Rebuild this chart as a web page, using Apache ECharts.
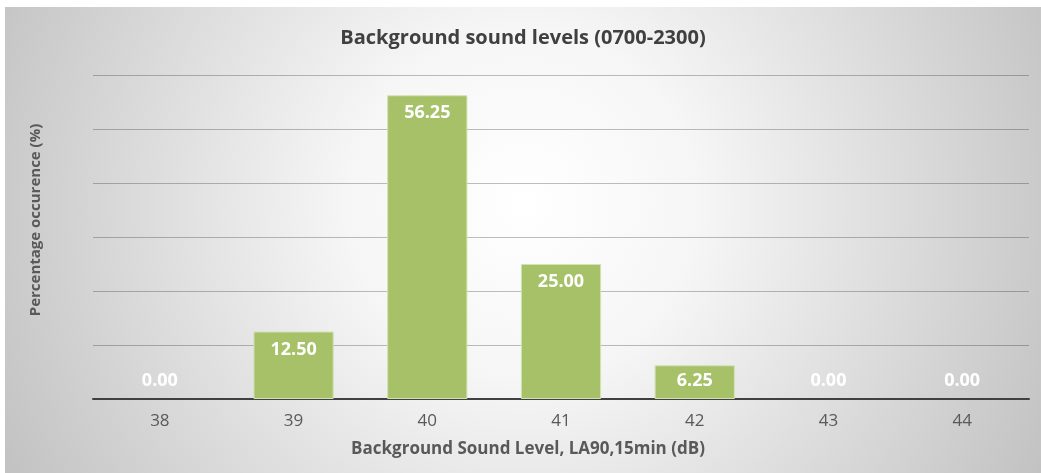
<!DOCTYPE html>
<html>
<head>
<meta charset="utf-8">
<script src="https://cdn.jsdelivr.net/npm/echarts@6/dist/echarts.min.js"></script>
<style>
  html, body { margin: 0; padding: 0; background: #ffffff; }
  #chart { position: absolute; left: 5px; top: 7px; width: 1036px; height: 466px; }
</style>
</head>
<body>
<div id="chart"></div>
<script>
// Background sound level distribution, daytime period
const levels = ['38', '39', '40', '41', '42', '43', '44'];
const occurrence = [0, 12.5, 56.25, 25, 6.25, 0, 0];
const yTicks = [0, 10, 20, 30, 40, 50, 60];

const FONT = '"Open Sans", "Noto Sans", sans-serif';

// Short bars cannot hold their label under the top edge, so it sits on the baseline instead
const barData = occurrence.map(v => ({
  value: v,
  itemStyle: v === 0 ? { borderWidth: 0 } : {},
  label: v < 8 ? { position: 'insideBottom', distance: 9 } : { position: 'insideTop', distance: 9 }
}));

const chart = echarts.init(document.getElementById('chart'), null, { renderer: 'canvas' });
chart.setOption({
  backgroundColor: {
    type: 'radial', x: 0.5, y: 0.42, r: 1.25,
    colorStops: [
      { offset: 0, color: '#ffffff' },
      { offset: 0.3, color: '#f6f6f6' },
      { offset: 0.65, color: '#dcdcdc' },
      { offset: 1, color: '#c2c2c2' }
    ]
  },
  animation: false,
  title: {
    text: 'Background sound levels (0700-2300)',
    left: 'center',
    top: 16,
    textStyle: { fontFamily: FONT, fontSize: 20, fontWeight: 'bold', color: '#404040' }
  },
  grid: { left: 88, right: 12, top: 68, bottom: 74, containLabel: false },
  xAxis: {
    type: 'category',
    data: levels,
    name: 'Background Sound Level, LA90,15min (dB)',
    nameLocation: 'middle',
    nameGap: 42,
    nameTextStyle: { fontFamily: FONT, fontSize: 17, fontWeight: 'bold', color: '#595959', padding: [0, 66, 0, 0] },
    axisLine: { lineStyle: { color: '#404040', width: 2 } },
    axisTick: { show: false },
    axisLabel: { fontFamily: FONT, fontSize: 17, color: '#595959', margin: 14 }
  },
  yAxis: {
    type: 'value',
    min: yTicks[0],
    max: yTicks[yTicks.length - 1],
    interval: yTicks[1] - yTicks[0],
    name: 'Percentage occurence (%)',
    nameLocation: 'middle',
    nameGap: 50,
    nameTextStyle: { fontFamily: FONT, fontSize: 15, fontWeight: 'bold', color: '#595959', padding: [0, 0, 0, 34] },
    axisLine: { show: false },
    axisTick: { show: false },
    axisLabel: { show: false },
    splitLine: { lineStyle: { color: 'rgba(0,0,0,0.25)', width: 1 } }
  },
  series: [{
    type: 'bar',
    data: barData,
    barCategoryGap: '40%',
    itemStyle: { color: '#a6c168', borderColor: '#d2e2b4', borderWidth: 1 },
    label: {
      show: true,
      formatter: p => p.value.toFixed(2),
      fontFamily: FONT,
      fontSize: 18,
      fontWeight: 'bold',
      color: '#ffffff'
    }
  }]
});
</script>
</body>
</html>
